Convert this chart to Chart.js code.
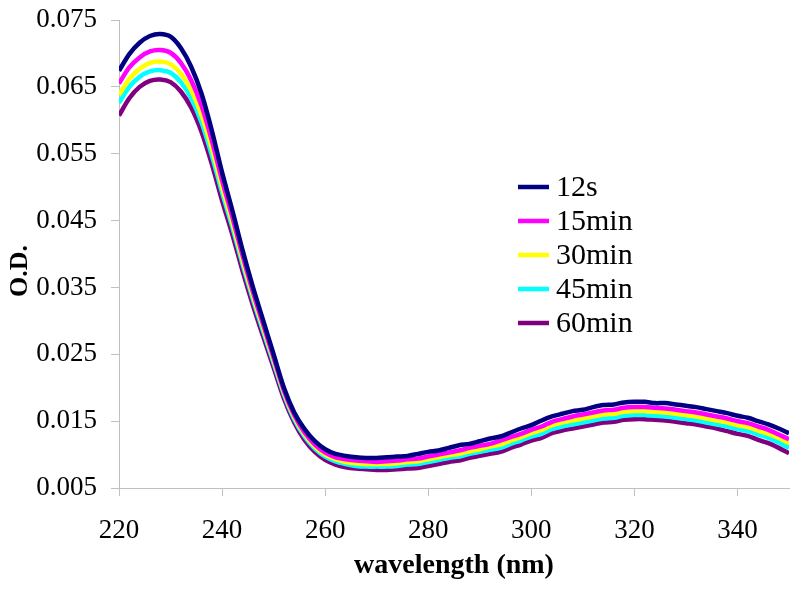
<!DOCTYPE html>
<html>
<head>
<meta charset="utf-8">
<script src="https://cdn.jsdelivr.net/npm/chart.js@4/dist/chart.umd.min.js"></script>
<style>
html,body{margin:0;padding:0;background:#fff;}
#wrap{width:800px;height:590px;position:relative;}
</style>
</head>
<body>
<div id="wrap"><canvas id="c" width="800" height="590"></canvas></div>
<script>
const wavelengths = [220,222,224,226,228,230,232,234,236,238,240,242,244,246,248,250,252,254,256,258,260,262,264,266,268,270,272,274,276,278,280,282,284,286,288,290,292,294,296,298,300,302,304,306,308,310,312,314,316,318,320,322,324,326,328,330,332,334,336,338,340,342,344,346,348,350];

const s12s = [0.0674,0.0699,0.0716,0.0726,0.0729,0.0725,0.0708,0.0680,0.0640,0.0585,0.0522,0.0465,0.0405,0.0350,0.0300,0.0250,0.0200,0.0163,0.0138,0.0120,0.0108,0.0101,0.0098,0.0096,0.0095,0.0095,0.0096,0.0097,0.0098,0.0101,0.0104,0.0106,0.0110,0.0114,0.0116,0.0120,0.0124,0.0127,0.0133,0.0139,0.0144,0.0151,0.0157,0.0161,0.0165,0.0167,0.0171,0.0174,0.0175,0.0178,0.0179,0.0179,0.0177,0.0177,0.0175,0.0173,0.0171,0.0168,0.0165,0.0162,0.0158,0.0155,0.0150,0.0145,0.0139,0.0132];

const s15min = [0.0655,0.0679,0.0694,0.0703,0.0705,0.0701,0.0686,0.0660,0.0622,0.0570,0.0510,0.0455,0.0397,0.0343,0.0294,0.0245,0.0196,0.0159,0.0133,0.0115,0.0103,0.0096,0.0093,0.0091,0.0090,0.0089,0.0090,0.0091,0.0093,0.0094,0.0097,0.0100,0.0103,0.0106,0.0110,0.0113,0.0116,0.0121,0.0126,0.0131,0.0137,0.0142,0.0149,0.0153,0.0157,0.0160,0.0163,0.0166,0.0167,0.0170,0.0171,0.0171,0.0170,0.0169,0.0167,0.0165,0.0163,0.0160,0.0157,0.0154,0.0150,0.0147,0.0142,0.0137,0.0130,0.0123];

const s30min = [0.0638,0.0662,0.0677,0.0686,0.0688,0.0684,0.0670,0.0645,0.0608,0.0558,0.0500,0.0447,0.0390,0.0337,0.0289,0.0241,0.0193,0.0156,0.0130,0.0112,0.0100,0.0093,0.0089,0.0087,0.0086,0.0086,0.0086,0.0087,0.0089,0.0090,0.0093,0.0096,0.0099,0.0101,0.0105,0.0108,0.0112,0.0115,0.0121,0.0126,0.0132,0.0137,0.0144,0.0148,0.0151,0.0154,0.0157,0.0160,0.0161,0.0164,0.0165,0.0165,0.0164,0.0163,0.0161,0.0159,0.0157,0.0154,0.0151,0.0148,0.0144,0.0141,0.0136,0.0131,0.0125,0.0117];

const s45min = [0.0626,0.0650,0.0665,0.0673,0.0675,0.0671,0.0657,0.0633,0.0597,0.0548,0.0492,0.0440,0.0384,0.0332,0.0284,0.0237,0.0190,0.0153,0.0127,0.0109,0.0097,0.0090,0.0086,0.0083,0.0082,0.0082,0.0082,0.0083,0.0085,0.0086,0.0089,0.0092,0.0095,0.0097,0.0101,0.0104,0.0107,0.0110,0.0116,0.0121,0.0127,0.0131,0.0138,0.0142,0.0145,0.0148,0.0151,0.0154,0.0155,0.0158,0.0159,0.0159,0.0158,0.0157,0.0155,0.0153,0.0151,0.0148,0.0145,0.0142,0.0138,0.0135,0.0130,0.0125,0.0118,0.0110];

const s60min = [0.0607,0.0633,0.0650,0.0659,0.0661,0.0657,0.0643,0.0619,0.0583,0.0535,0.0480,0.0429,0.0374,0.0323,0.0276,0.0230,0.0184,0.0148,0.0122,0.0104,0.0092,0.0085,0.0081,0.0079,0.0078,0.0077,0.0077,0.0078,0.0079,0.0080,0.0083,0.0086,0.0089,0.0091,0.0095,0.0098,0.0101,0.0104,0.0110,0.0115,0.0121,0.0125,0.0132,0.0136,0.0139,0.0142,0.0145,0.0148,0.0149,0.0152,0.0153,0.0153,0.0152,0.0151,0.0149,0.0147,0.0145,0.0142,0.0139,0.0135,0.0131,0.0128,0.0122,0.0117,0.0110,0.0102];

const seriesNames = ['12s','15min','30min','45min','60min'];
const seriesData = [s12s, s15min, s30min, s45min, s60min];
const seriesColors = ['#000080','#FF00FF','#FFFF00','#00FFFF','#800080'];

const xTicks = [220,240,260,280,300,320,340];
const yTicks = [0.005,0.015,0.025,0.035,0.045,0.055,0.065,0.075];
const xTitle = 'wavelength (nm)';
const yTitle = 'O.D.';

const FONT = '"Liberation Serif", "Times New Roman", serif';

const datasets = seriesNames.map((name, i) => ({
  label: name,
  data: wavelengths.map((w, j) => ({x: w, y: seriesData[i][j]})),
  borderColor: seriesColors[i],
  backgroundColor: seriesColors[i],
  borderWidth: 4.5,
  pointRadius: 0,
  tension: 0.3,
  fill: false
}));

const legendPlugin = {
  id: 'insideLegend',
  afterDraw(chart) {
    const ctx = chart.ctx;
    const x0 = 518, y0 = 187, gap = 34;
    ctx.save();
    ctx.font = '30px ' + FONT;
    ctx.textBaseline = 'middle';
    ctx.fillStyle = '#000';
    seriesNames.forEach((n, i) => {
      const y = y0 + i * gap;
      ctx.strokeStyle = seriesColors[i];
      ctx.lineWidth = 4.5;
      ctx.beginPath();
      ctx.moveTo(x0, y);
      ctx.lineTo(x0 + 31, y);
      ctx.stroke();
      ctx.fillText(n, x0 + 38, y + 1);
    });
    // y axis title
    ctx.translate(20, 271);
    ctx.rotate(-Math.PI / 2);
    ctx.font = 'bold 26px ' + FONT;
    ctx.textAlign = 'center';
    ctx.textBaseline = 'middle';
    ctx.fillText(yTitle, 0, 0);
    ctx.restore();
  }
};

new Chart(document.getElementById('c'), {
  type: 'line',
  data: { datasets },
  plugins: [legendPlugin],
  options: {
    responsive: false,
    animation: false,
    layout: { padding: { top: 20, right: 11, bottom: 7, left: 0 } },
    plugins: { legend: { display: false }, tooltip: { enabled: false } },
    scales: {
      x: {
        type: 'linear',
        min: 220, max: 350,
        afterBuildTicks: s => { s.ticks = xTicks.map(v => ({value: v})); },
        afterFit: s => { s.height = 95; s.paddingLeft = 0; s.paddingRight = 0; },
        grid: { drawOnChartArea: false, drawTicks: true, tickLength: 8, color: '#c0c0c0' },
        border: { color: '#c0c0c0', width: 1 },
        ticks: { color: '#000', font: { family: FONT, size: 27 }, padding: 19, maxRotation: 0 },
        title: { display: true, text: xTitle, color: '#000', font: { family: FONT, size: 28, weight: 'bold' }, padding: { top: 6, bottom: 0 } }
      },
      y: {
        type: 'linear',
        min: 0.005, max: 0.075,
        afterBuildTicks: s => { s.ticks = yTicks.map(v => ({value: v})); },
        afterFit: s => { s.width = 119; s.paddingTop = 0; s.paddingBottom = 0; },
        grid: { drawOnChartArea: false, drawTicks: true, tickLength: 8, color: '#c0c0c0' },
        border: { color: '#c0c0c0', width: 1 },
        ticks: { color: '#000', font: { family: FONT, size: 27 }, padding: 14, callback: v => v.toFixed(3) },
        title: { display: false }
      }
    }
  }
});
</script>
</body>
</html>
